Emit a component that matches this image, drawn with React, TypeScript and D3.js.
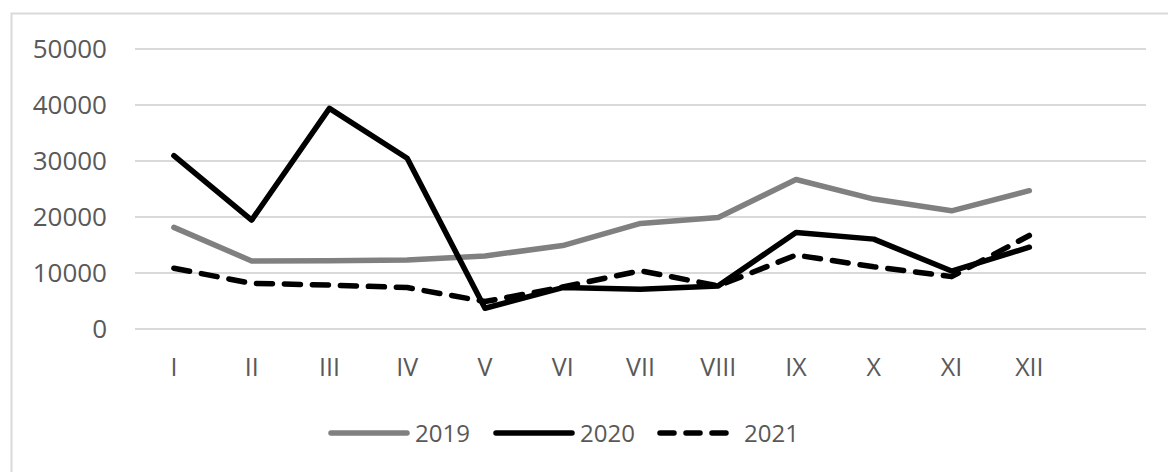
import React, { useEffect, useRef } from "react";
import * as d3 from "d3";

const months = ["I", "II", "III", "IV", "V", "VI", "VII", "VIII", "IX", "X", "XI", "XII"];
const yTicks = [0, 10000, 20000, 30000, 40000, 50000];

const values2019 = [18150, 12150, 12200, 12300, 13050, 14900, 18850, 19900, 26700, 23200, 21100, 24700];
const values2020 = [30950, 19450, 39400, 30500, 3700, 7400, 7100, 7700, 17250, 16050, 10350, 14600];
const values2021 = [10850, 8150, 7850, 7400, 4900, 7500, 10400, 7700, 13200, 11100, 9350, 16700];

const seriesNames = ["2019", "2020", "2021"];

export default function App() {
  const ref = useRef<SVGSVGElement | null>(null);

  useEffect(() => {
    const el = ref.current;
    if (!el) return;
    const svg = d3.select(el);
    svg.selectAll("*").remove();

    const width = 1168;
    const height = 472;
    const font = "'Open Sans', 'Noto Sans', sans-serif";
    const textColor = "#595959";

    // chart frame (only left and top visible in the crop)
    svg
      .append("rect")
      .attr("x", 11.5)
      .attr("y", 13.5)
      .attr("width", width + 20)
      .attr("height", height + 20)
      .attr("fill", "none")
      .attr("stroke", "#d9d9d9")
      .attr("stroke-width", 2);

    // 13 bands, last one left empty like the original
    const x = d3
      .scaleBand<string>()
      .domain([...months, ""])
      .range([135, 1146]);

    const y = d3.scaleLinear().domain([0, 50000]).range([329, 49]);

    const cx = (i: number) => (x(months[i]) ?? 0) + x.bandwidth() / 2;

    // gridlines
    svg
      .append("g")
      .selectAll("line")
      .data(yTicks)
      .enter()
      .append("line")
      .attr("x1", 135)
      .attr("x2", 1146)
      .attr("y1", (d) => y(d))
      .attr("y2", (d) => y(d))
      .attr("stroke", "#d9d9d9")
      .attr("stroke-width", 2);

    // y labels
    svg
      .append("g")
      .selectAll("text")
      .data(yTicks)
      .enter()
      .append("text")
      .attr("x", 107)
      .attr("y", (d) => y(d))
      .attr("dy", "0.36em")
      .attr("text-anchor", "end")
      .attr("font-family", font)
      .attr("font-size", 26)
      .attr("fill", textColor)
      .text((d) => String(d));

    // x labels
    svg
      .append("g")
      .selectAll("text")
      .data(months)
      .enter()
      .append("text")
      .attr("x", (_, i) => cx(i))
      .attr("y", 367)
      .attr("dy", "0.36em")
      .attr("text-anchor", "middle")
      .attr("font-family", font)
      .attr("font-size", 25)
      .attr("fill", textColor)
      .text((d) => d);

    const line = d3
      .line<number>()
      .x((_, i) => cx(i))
      .y((d) => y(d));

    const styles = [
      { data: values2019, color: "#808080", dash: null as string | null },
      { data: values2020, color: "#000000", dash: null as string | null },
      { data: values2021, color: "#000000", dash: "16 12" },
    ];

    styles.forEach((s) => {
      svg
        .append("path")
        .datum(s.data)
        .attr("d", line)
        .attr("fill", "none")
        .attr("stroke", s.color)
        .attr("stroke-width", 5.5)
        .attr("stroke-linejoin", "round")
        .attr("stroke-linecap", "round")
        .attr("stroke-dasharray", s.dash);
    });

    // legend
    const legendX = [331, 496, 660];
    const legendY = 433;
    const lg = svg.append("g");
    styles.forEach((s, i) => {
      lg.append("line")
        .attr("x1", legendX[i])
        .attr("x2", legendX[i] + 76)
        .attr("y1", legendY)
        .attr("y2", legendY)
        .attr("stroke", s.color)
        .attr("stroke-width", 5.5)
        .attr("stroke-linecap", "round")
        .attr("stroke-dasharray", s.dash ? "14 12" : null);
      lg.append("text")
        .attr("x", legendX[i] + 84)
        .attr("y", legendY)
        .attr("dy", "0.36em")
        .attr("font-family", font)
        .attr("font-size", 24)
        .attr("fill", textColor)
        .text(seriesNames[i]);
    });
  }, []);

  return (
    <div style={{ position: "absolute", left: 0, top: 0, background: "#fff" }}>
      <svg ref={ref} width={1168} height={472} style={{ display: "block" }} />
    </div>
  );
}
